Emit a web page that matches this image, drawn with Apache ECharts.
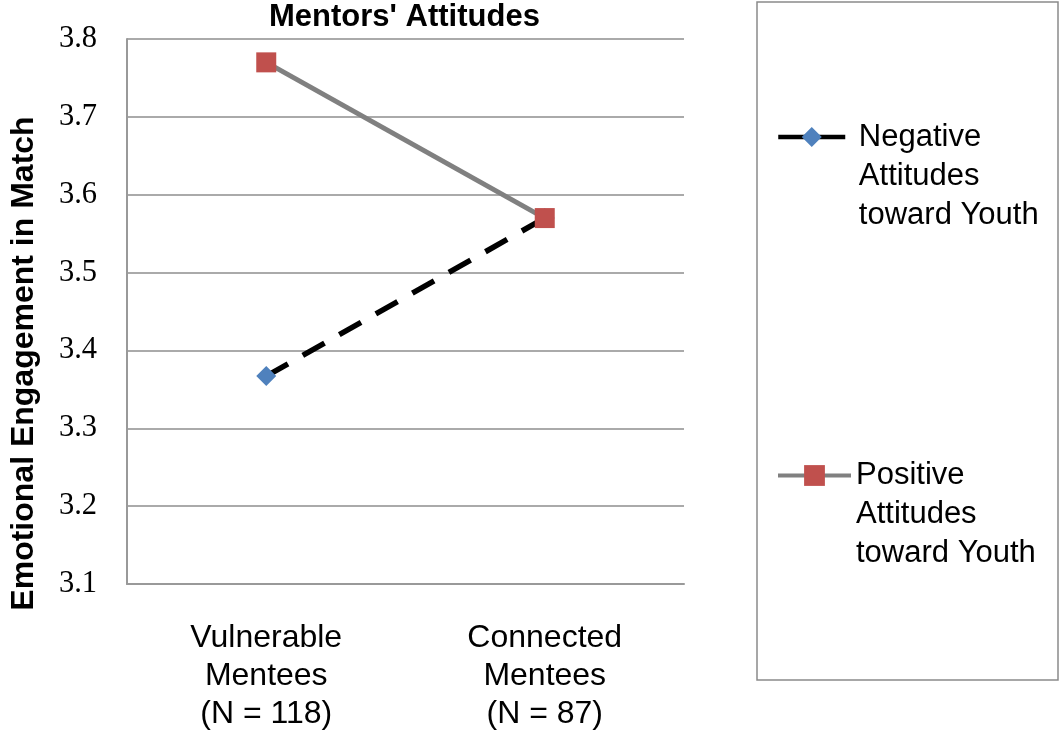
<!DOCTYPE html>
<html>
<head>
<meta charset="utf-8">
<script src="https://cdn.jsdelivr.net/npm/echarts@6/dist/echarts.min.js"></script>
<style>
  html, body { margin: 0; padding: 0; background: #fff; }
  #chart { width: 1060px; height: 733px; }
</style>
</head>
<body>
<div id="chart"></div>
<script>
// Mentee groups along the x axis
const categories = ['Vulnerable\nMentees\n(N = 118)', 'Connected\nMentees\n(N = 87)'];
// Mean emotional engagement by mentor attitude
const negativeValues = [3.367, 3.57];
const positiveValues = [3.77, 3.57];
const seriesNames = ['Negative\nAttitudes\ntoward Youth', 'Positive\nAttitudes\ntoward Youth'];
const yTicks = { min: 3.1, max: 3.8, step: 0.1 };

const sans = 'Liberation Sans, Arial, Helvetica, sans-serif';
const serif = 'Liberation Serif, Times New Roman, serif';

const chart = echarts.init(document.getElementById('chart'), null, { renderer: 'canvas' });

// Two blank lines ahead of the name keep its first line level with the icon;
// an optional leading space on each line widens the gap after a short icon
const legendText = { fontFamily: sans, fontSize: 31, color: '#000', lineHeight: 39 };
const legendFormatter = indent => name =>
  '\n\n' + name.split('\n').map(s => (indent ? ' ' : '') + s).join('\n');

chart.setOption({
  animation: false,
  backgroundColor: '#fff',
  title: {
    text: "Mentors' Attitudes",
    left: 269, top: 2, padding: 0,
    textStyle: { fontFamily: sans, fontWeight: 'bold', fontSize: 31, color: '#000', lineHeight: 31 }
  },
  grid: { left: 123, right: 376, top: 39, bottom: 144, containLabel: false },
  xAxis: {
    type: 'category',
    data: categories,
    boundaryGap: true,
    axisLine: { show: true, lineStyle: { color: '#999', width: 2 } },
    axisTick: { show: false },
    axisLabel: {
      margin: 35, fontFamily: sans, fontSize: 32, lineHeight: 38, color: '#000',
      interval: 0
    },
    splitLine: { show: false }
  },
  yAxis: {
    type: 'value',
    min: yTicks.min, max: yTicks.max, interval: yTicks.step,
    name: 'Emotional Engagement in Match',
    nameLocation: 'middle',
    nameRotate: 90,
    nameGap: 87,
    nameTextStyle: {
      fontFamily: sans, fontWeight: 'bold', fontSize: 32, color: '#000',
      padding: [0, 104, 0, 0]
    },
    axisLine: { show: true, lineStyle: { color: '#999', width: 2 } },
    axisTick: { show: false },
    axisLabel: {
      margin: 30, fontFamily: serif, fontSize: 30.5, color: '#000',
      formatter: v => v.toFixed(1)
    },
    splitLine: { show: true, lineStyle: { color: '#aaa', width: 2 } }
  },
  legend: [
    {
      data: [seriesNames[0]], orient: 'vertical', left: 776, top: 39.5, padding: 0,
      itemWidth: 67, itemHeight: 25, itemGap: 0,
      formatter: legendFormatter(true),
      textStyle: legendText,
      lineStyle: { type: 'solid', width: 4.5 }
    },
    {
      data: [seriesNames[1]], orient: 'vertical', left: 776, top: 378, padding: 0,
      itemWidth: 73, itemHeight: 26, itemGap: 0,
      formatter: legendFormatter(false),
      textStyle: legendText,
      lineStyle: { type: 'solid', width: 4 }
    }
  ],
  graphic: [
    {
      type: 'rect', silent: true, z: -1,
      shape: { x: 757, y: 2, width: 301, height: 678 },
      style: { fill: 'none', stroke: '#8a8a8a', lineWidth: 1.5 }
    }
  ],
  series: [
    {
      name: seriesNames[0],
      type: 'line',
      data: negativeValues,
      symbol: 'diamond',
      symbolSize: 20,
      itemStyle: { color: '#4F81BD' },
      lineStyle: { color: '#000', width: 5.5, type: [25, 17] },
      z: 2
    },
    {
      name: seriesNames[1],
      type: 'line',
      data: positiveValues,
      symbol: 'rect',
      symbolSize: 20,
      itemStyle: { color: '#C0504D' },
      lineStyle: { color: '#808080', width: 5 },
      z: 3
    }
  ]
});
</script>
</body>
</html>
